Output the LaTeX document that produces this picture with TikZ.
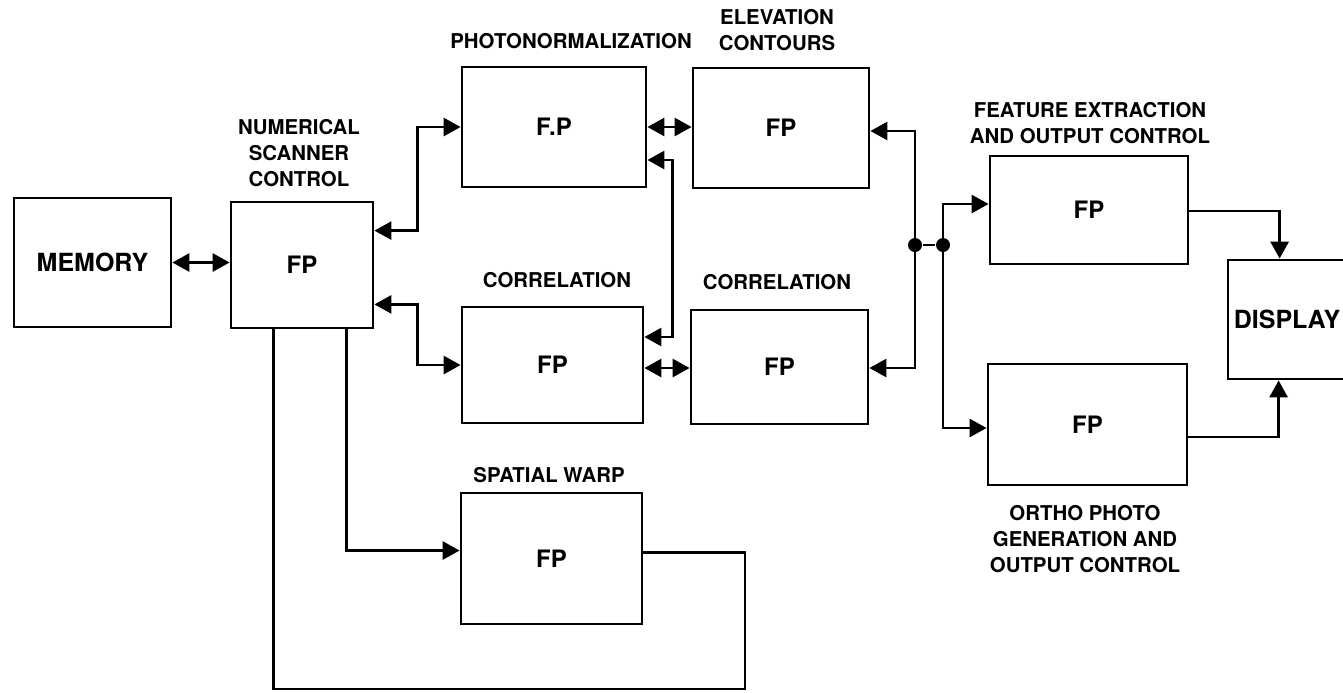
\documentclass[tikz,border=0pt]{standalone}
\usepackage{fontspec}
\setmainfont{TeX Gyre Heros}
\usetikzlibrary{arrows.meta,positioning,calc}

\begin{document}
\begin{tikzpicture}[x=0.5pt,y=-0.5pt,line width=1.4pt,
  fpbox/.style={draw,line width=1.4pt,inner sep=0pt,font=\fontsize{12}{14}\selectfont\bfseries},
  bigbox/.style={fpbox,font=\fontsize{12.5}{15}\selectfont\bfseries},
  lbl/.style={align=center,inner sep=0pt,font=\fontsize{10.2}{13}\selectfont\bfseries},
  arr/.style={-{Triangle[length=8.5pt,width=9pt]}},
  dbl/.style={{Triangle[length=8.5pt,width=9pt]}-{Triangle[length=8.5pt,width=9pt]}},
  dot/.style={circle,fill,inner sep=0pt,minimum size=7pt}]
\useasboundingbox (0,0) rectangle (1343,692);
\clip (0,0) rectangle (1343,692);
% boxes
\node[bigbox,minimum width=78.5pt,minimum height=64.5pt] (mem) at (92.5,262.5) {MEMORY};
\node[fpbox,minimum width=71pt,minimum height=63pt] (nsc) at (302,265) {FP};
\node[fpbox,minimum width=92pt,minimum height=60pt] (phn) at (554,127) {F.P};
\node[fpbox,minimum width=88pt,minimum height=60pt] (elev) at (781,128) {FP};
\node[fpbox,minimum width=90.5pt,minimum height=58pt] (cor1) at (552.5,365) {FP};
\node[fpbox,minimum width=88.5pt,minimum height=57pt] (cor2) at (779.5,367) {FP};
\node[fpbox,minimum width=90.5pt,minimum height=65.5pt] (sw) at (551.5,558.5) {FP};
\node[fpbox,minimum width=99pt,minimum height=54pt] (fe) at (1089,210) {FP};
\node[fpbox,minimum width=99.5pt,minimum height=60.5pt] (orth) at (1087.5,424.5) {FP};
\node[bigbox,minimum width=59pt,minimum height=59.5pt] (disp) at (1287,319.5) {DISPLAY};
% labels
\node[lbl] (nscl) at (299,153) {NUMERICAL\\SCANNER\\CONTROL};
\node[lbl] (phnl) at (571,41) {PHOTONORMALIZATION};
\node[lbl] (elevl) at (777,30) {ELEVATION\\CONTOURS};
\node[lbl] (cor1l) at (557,280) {CORRELATION};
\node[lbl] (cor2l) at (777,282) {CORRELATION};
\node[lbl] (swl) at (549,475) {SPATIAL WARP};
\node[lbl] (fel) at (1090,123) {FEATURE EXTRACTION\\AND OUTPUT CONTROL};
\node[lbl] (orthl) at (1085,539) {ORTHO PHOTO\\GENERATION AND\\OUTPUT CONTROL};
% junctions
\node[dot] (j1) at (915,245) {};
\node[dot] (j2) at (943,245) {};
\coordinate (lp) at (745,689);
% connectors
\draw[dbl] (mem.east) -- (mem.east -| nsc.west);
\draw[dbl] ($(nsc.north east)+(0,30)$) -| ($(phn.west)+(-43,0)$) -- (phn.west);
\draw[dbl] ($(nsc.south east)+(0,-25)$) -| ($(cor1.west)+(-43,0)$) -- (cor1.west);
\draw[dbl] (phn.east) -- (phn.east -| elev.west);
\draw[dbl] ($(phn.east)+(0,33)$) -| ($(cor1.east)+(28,-28)$) -- ($(cor1.east)+(0,-28)$);
\draw[dbl] ($(cor1.east)+(0,3)$) -- ($(cor2.west)+(0,1)$);
\draw[arr] (j1.center) |- ($(elev.east)+(0,3)$);
\draw[arr] (j1.center) |- ($(cor2.east)+(0,1)$);
\draw (j1) -- (j2);
\draw[arr] (j2.center) |- ($(fe.west)+(0,-6)$);
\draw[arr] (j2.center) |- ($(orth.west)+(0,3.5)$);
\draw[arr] ($(fe.east)+(0,1)$) -| ($(disp.north west)+(53,0)$);
\draw[arr] ($(orth.east)+(0,12.5)$) -| ($(disp.south west)+(52,0)$);
\draw[arr] ($(nsc.south west)+(117,0)$) |- ($(sw.west)+(0,-8)$);
\draw ($(sw.east)+(0,-6)$) -| (lp) -| ($(nsc.south west)+(44,0)$);
\end{tikzpicture}
\end{document}
